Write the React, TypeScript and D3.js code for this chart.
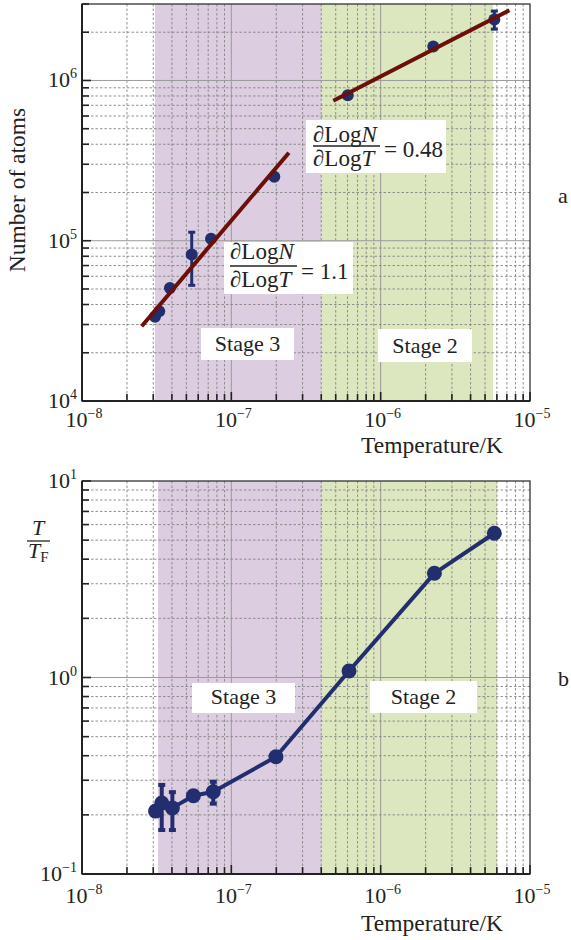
import React from "react";
import * as d3 from "d3";

// ---------- data ----------
// Panel a: number of atoms vs temperature
const tempA = [3.08e-8, 3.29e-8, 3.88e-8, 5.43e-8, 7.31e-8, 1.94e-7, 6.02e-7, 2.25e-6, 5.77e-6];
const atoms = [3.35e4, 3.63e4, 5.07e4, 8.2e4, 1.03e5, 2.51e5, 8.1e5, 1.63e6, 2.4e6];
const atomsErrLo = [null, null, null, 5.27e4, null, null, null, null, 2.09e6];
const atomsErrHi = [null, null, null, 1.13e5, null, null, null, null, 2.71e6];
// fit lines (endpoints)
const fit3T = [2.51e-8, 2.43e-7];
const fit3N = [2.93e4, 3.54e5];
const fit2T = [4.82e-7, 7.28e-6];
const fit2N = [7.47e5, 2.74e6];
const slopeLabels = ["1.1", "0.48"];

// Panel b: T/TF vs temperature
const tempB = [3.11e-8, 3.42e-8, 4.03e-8, 5.57e-8, 7.57e-8, 1.99e-7, 6.14e-7, 2.29e-6, 5.77e-6];
const ratio = [0.209, 0.2296, 0.217, 0.25, 0.262, 0.395, 1.08, 3.39, 5.42];
const ratioErrLo = [null, 0.1675, 0.1675, null, 0.228, null, null, null, null];
const ratioErrHi = [null, 0.284, 0.261, null, 0.295, null, null, null, null];

// stage regions (temperature spans)
const stageA = [3.08e-8, 4.03e-7, 5.66e-6];
const stageB = [3.23e-8, 4.03e-7, 6.02e-6];
const stageNames = ["Stage 3", "Stage 2"];

// axis tick exponents
const xExps = [-8, -7, -6, -5];
const yExpsA = [4, 5, 6];
const yExpsB = [-1, 0, 1];

// ---------- styles ----------
const FONT = "'Liberation Serif', 'DejaVu Serif', serif";
const PURPLE = "#dccde0";
const GREEN = "#dce6bf";
const NAVY = "#222e6e";
const MAROON = "#6b1009";
const FS = 22;
const TITLE_FS = 23.5;

function minorValues(lo: number, hi: number) {
  const out: { v: number; major: boolean }[] = [];
  const e0 = Math.floor(Math.log10(lo));
  const e1 = Math.ceil(Math.log10(hi));
  for (let e = e0; e <= e1; e++) {
    for (let m = 1; m <= 9; m++) {
      const v = m * Math.pow(10, e);
      if (v >= lo * 0.9999 && v <= hi * 1.0001) out.push({ v, major: m === 1 });
    }
  }
  return out;
}

function Pow({ x, y, exp, anchor }: { x: number; y: number; exp: number; anchor: string }) {
  const s = exp < 0 ? "\u2212" + Math.abs(exp) : String(exp);
  return (
    <text x={x} y={y} fontFamily={FONT} fontSize={FS} textAnchor={anchor} fill="#222">
      10<tspan dy={-9} fontSize={14}>{s}</tspan>
    </text>
  );
}

function Frac({ x, yNum, yBar, yDen, barW }: { x: number; yNum: number; yBar: number; yDen: number; barW: number }) {
  return (
    <g fontFamily={FONT} fontSize={23} fill="#222">
      <text x={x} y={yNum}>
        ∂Log<tspan fontStyle="italic">N</tspan>
      </text>
      <line x1={x} x2={x + barW} y1={yBar} y2={yBar} stroke="#222" strokeWidth={1.3} />
      <text x={x} y={yDen}>
        ∂Log<tspan fontStyle="italic">T</tspan>
      </text>
    </g>
  );
}

type PanelProps = {
  top: number;
  bottom: number;
  yDomain: [number, number];
  yExps: number[];
  stages: number[];
  xLabelBase: number;
  tickLabelOff: number;
  children: (x: any, y: any) => React.ReactNode;
};

const LEFT = 82;
const RIGHT = 530;

function Panel({ top, bottom, yDomain, yExps, stages, xLabelBase, tickLabelOff, children }: PanelProps) {
  const x = d3.scaleLog().domain([1e-8, 1e-5]).range([LEFT, RIGHT]);
  const y = d3.scaleLog().domain(yDomain).range([bottom, top]);
  const xs = minorValues(1e-8, 1e-5);
  const ys = minorValues(yDomain[0], yDomain[1]);
  return (
    <g>
      <rect x={x(stages[0])} y={top} width={x(stages[1]) - x(stages[0])} height={bottom - top} fill={PURPLE} />
      <rect x={x(stages[1])} y={top} width={x(stages[2]) - x(stages[1])} height={bottom - top} fill={GREEN} />
      {/* grid */}
      {xs
        .filter((t) => x(t.v) > LEFT + 1 && x(t.v) < RIGHT - 1)
        .map((t, i) => (
          <line
            key={"gx" + i}
            x1={x(t.v)}
            x2={x(t.v)}
            y1={top}
            y2={bottom}
            stroke={t.major ? "#9a9a9a" : "#858585"}
            strokeWidth={t.major ? 1 : 0.9}
            strokeDasharray={t.major ? undefined : "2.5,2"}
          />
        ))}
      {ys
        .filter((t) => y(t.v) > top + 1 && y(t.v) < bottom - 1)
        .map((t, i) => (
          <line
            key={"gy" + i}
            x1={LEFT}
            x2={RIGHT}
            y1={y(t.v)}
            y2={y(t.v)}
            stroke={t.major ? "#9a9a9a" : "#858585"}
            strokeWidth={t.major ? 1 : 0.9}
            strokeDasharray={t.major ? undefined : "2.5,2"}
          />
        ))}
      {children(x, y)}
      {/* frame */}
      <rect x={LEFT} y={top} width={RIGHT - LEFT} height={bottom - top} fill="none" stroke="#333" strokeWidth={1.3} />
      <line x1={LEFT} x2={LEFT} y1={top} y2={bottom} stroke="#222" strokeWidth={2} />
      <line x1={LEFT} x2={RIGHT} y1={bottom} y2={bottom} stroke="#222" strokeWidth={2} />
      {/* ticks */}
      {xs.map((t, i) => (
        <line key={"tx" + i} x1={x(t.v)} x2={x(t.v)} y1={bottom} y2={bottom - (t.major ? 9 : 7)} stroke="#222" strokeWidth={1.6} />
      ))}
      {ys.map((t, i) => (
        <line key={"ty" + i} x1={LEFT} x2={LEFT + (t.major ? 9 : 7)} y1={y(t.v)} y2={y(t.v)} stroke="#222" strokeWidth={1.6} />
      ))}
      {xExps.map((e) => (
        <Pow key={"lx" + e} x={x(Math.pow(10, e)) + 2} y={bottom + tickLabelOff} exp={e} anchor="middle" />
      ))}
      {yExps.map((e) => (
        <Pow key={"ly" + e} x={LEFT - 5} y={y(Math.pow(10, e)) + 7} exp={e} anchor="end" />
      ))}
      <text x={RIGHT - 27} y={xLabelBase} fontFamily={FONT} fontSize={TITLE_FS} textAnchor="end" fill="#222">
        Temperature/K
      </text>
    </g>
  );
}

function StageBox({ x0, y0, w, h, label }: { x0: number; y0: number; w: number; h: number; label: string }) {
  return (
    <g>
      <rect x={x0} y={y0} width={w} height={h} fill="#fff" />
      <text x={x0 + w / 2} y={y0 + h - 9} fontFamily={FONT} fontSize={FS} textAnchor="middle" fill="#222">
        {label}
      </text>
    </g>
  );
}

export default function App() {
  return (
    <svg width={571} height={940} style={{ display: "block", position: "absolute", left: 0, top: 0, background: "#fff" }}>
      {/* Panel a */}
      <Panel top={4} bottom={401} yDomain={[1e4, 3e6]} yExps={yExpsA} stages={stageA} xLabelBase={453} tickLabelOff={26}>
        {(x: any, y: any) => {
          const line = d3.line<[number, number]>().x((d) => x(d[0])).y((d) => y(d[1]));
          return (
            <g>
              <StageBox x0={201} y0={328} w={93} h={32} label={stageNames[0]} />
              <StageBox x0={378} y0={329} w={94} h={33} label={stageNames[1]} />
              {atoms.map((n, i) =>
                atomsErrLo[i] != null ? (
                  <g key={"ea" + i} stroke={NAVY} strokeWidth={3}>
                    <line x1={x(tempA[i])} x2={x(tempA[i])} y1={y(atomsErrLo[i] as number)} y2={y(atomsErrHi[i] as number)} />
                    <line x1={x(tempA[i]) - 3.5} x2={x(tempA[i]) + 3.5} y1={y(atomsErrLo[i] as number)} y2={y(atomsErrLo[i] as number)} />
                    <line x1={x(tempA[i]) - 3.5} x2={x(tempA[i]) + 3.5} y1={y(atomsErrHi[i] as number)} y2={y(atomsErrHi[i] as number)} />
                  </g>
                ) : null
              )}
              {atoms.map((n, i) => (
                <circle key={"pa" + i} cx={x(tempA[i])} cy={y(n)} r={6} fill={NAVY} />
              ))}
              <path d={line(fit3T.map((t, i) => [t, fit3N[i]]) as any) || ""} stroke={MAROON} strokeWidth={4} fill="none" />
              <path d={line(fit2T.map((t, i) => [t, fit2N[i]]) as any) || ""} stroke={MAROON} strokeWidth={4} fill="none" />
              {/* slope annotations */}
              <rect x={306} y={120} width={140} height={53} fill="#fff" />
              <Frac x={313} yNum={142} yBar={146} yDen={166} barW={67} />
              <text x={384} y={157} fontFamily={FONT} fontSize={23} fill="#222">
                = {slopeLabels[1]}
              </text>
              <rect x={224} y={242} width={129} height={52} fill="#fff" />
              <Frac x={230} yNum={259} yBar={266} yDen={287} barW={67} />
              <text x={301} y={279} fontFamily={FONT} fontSize={23} fill="#222">
                = {slopeLabels[0]}
              </text>
            </g>
          );
        }}
      </Panel>
      {/* Panel b */}
      <Panel top={481} bottom={874} yDomain={[0.1, 10]} yExps={yExpsB} stages={stageB} xLabelBase={931} tickLabelOff={29}>
        {(x: any, y: any) => {
          const line = d3.line<number>().x((d, i) => x(tempB[i])).y((d) => y(d));
          return (
            <g>
              <StageBox x0={192} y0={683} w={103} h={30} label={stageNames[0]} />
              <StageBox x0={370} y0={681} w={107} h={32} label={stageNames[1]} />
              <path d={line(ratio) || ""} stroke={NAVY} strokeWidth={4} fill="none" strokeLinejoin="round" />
              {ratio.map((r, i) =>
                ratioErrLo[i] != null ? (
                  <g key={"eb" + i} stroke={NAVY} strokeWidth={4}>
                    <line x1={x(tempB[i])} x2={x(tempB[i])} y1={y(ratioErrLo[i] as number)} y2={y(ratioErrHi[i] as number)} />
                    <line x1={x(tempB[i]) - 3.5} x2={x(tempB[i]) + 3.5} y1={y(ratioErrLo[i] as number)} y2={y(ratioErrLo[i] as number)} />
                    <line x1={x(tempB[i]) - 3.5} x2={x(tempB[i]) + 3.5} y1={y(ratioErrHi[i] as number)} y2={y(ratioErrHi[i] as number)} />
                  </g>
                ) : null
              )}
              {ratio.map((r, i) => (
                <circle key={"pb" + i} cx={x(tempB[i])} cy={y(r)} r={7.5} fill={NAVY} />
              ))}
            </g>
          );
        }}
      </Panel>
      {/* y-axis labels */}
      <text transform="translate(25,190) rotate(-90)" fontFamily={FONT} fontSize={TITLE_FS} textAnchor="middle" fill="#222">
        Number of atoms
      </text>
      <g fontFamily={FONT} fontSize={FS} fill="#222">
        <text x={38} y={535} fontStyle="italic" textAnchor="middle">T</text>
        <line x1={27} x2={50} y1={541} y2={541} stroke="#222" strokeWidth={1.3} />
        <text x={28} y={558} fontStyle="italic">
          T<tspan fontStyle="normal" fontSize={15} dy={4}>F</tspan>
        </text>
      </g>
      <text x={558} y={203} fontFamily={FONT} fontSize={FS} fill="#222">a</text>
      <text x={558} y={686} fontFamily={FONT} fontSize={FS} fill="#222">b</text>
    </svg>
  );
}
